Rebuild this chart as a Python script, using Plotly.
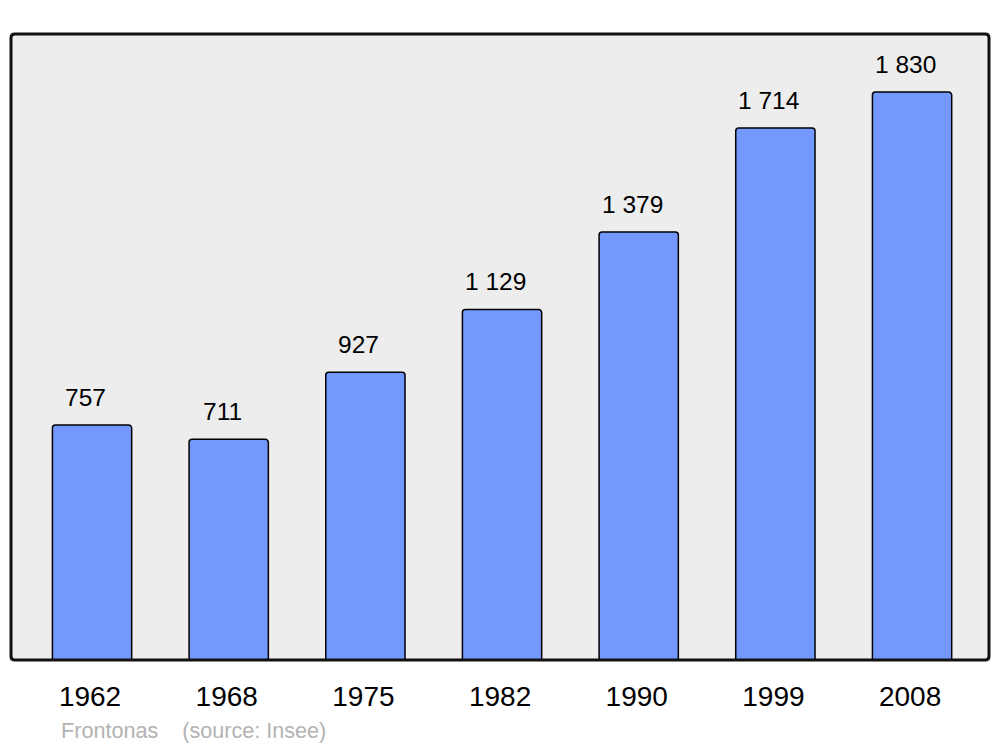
import plotly.graph_objects as go

years = ["1962", "1968", "1975", "1982", "1990", "1999", "2008"]
population = [757, 711, 927, 1129, 1379, 1714, 1830]
value_labels = ["757", "711", "927", "1 129", "1 379", "1 714", "1 830"]
source_text = "Frontonas    (source: Insee)"

FONT = "Liberation Sans, Arial, sans-serif"

fig = go.Figure()
fig.add_trace(go.Bar(
    x=years, y=population,
    marker=dict(color="#7399FF", line=dict(color="#000000", width=1.5), cornerradius=3),
    width=0.58,
    hoverinfo="skip",
))

for i, (v, lab) in enumerate(zip(population, value_labels)):
    fig.add_annotation(x=i, y=v, text=lab, showarrow=False, xref="x", yref="y",
                       yanchor="middle", yshift=28, xshift=-6.5,
                       font=dict(family=FONT, size=24.5, color="#000000"))

W, H = 1000, 747
ML, MR, MT, MB = 11, 11, 34, 87
fig.add_annotation(x=(59 - ML) / (W - ML - MR), y=(H - MB - 730) / (H - MT - MB),
                   xref="paper", yref="paper", text=source_text.replace(" ", "&nbsp;"),
                   showarrow=False, xanchor="left", yanchor="middle",
                   font=dict(family=FONT, size=21.6, color="#B3B3B3"))

# rounded border around plot area
fig.add_shape(type="path", xref="paper", yref="paper",
              path="M 0,0.006 L 0,0.994 Q 0,1 0.004,1 L 0.996,1 Q 1,1 1,0.994 L 1,0.006 Q 1,0 0.996,0 L 0.004,0 Q 0,0 0,0.006 Z",
              line=dict(color="#111111", width=3), layer="above")

fig.update_layout(
    width=W, height=H,
    margin=dict(l=ML, r=MR, t=MT, b=MB),
    paper_bgcolor="#FFFFFF",
    plot_bgcolor="#EDEDED",
    showlegend=False,
    xaxis=dict(type="category", range=[-0.593, 6.563], showgrid=False, zeroline=False,
               showline=False, ticks="outside", ticklen=11, tickcolor="rgba(0,0,0,0)",
               ticklabelshift=-2,
               tickfont=dict(family=FONT, size=28, color="#000000"),
               fixedrange=True),
    yaxis=dict(range=[0, 2017], showgrid=False, zeroline=False, showline=False,
               showticklabels=False, ticks="", fixedrange=True),
)

fig.write_html("out.html", config={"displayModeBar": False},
               post_script="document.body.style.margin='0';document.body.style.overflow='hidden';")
